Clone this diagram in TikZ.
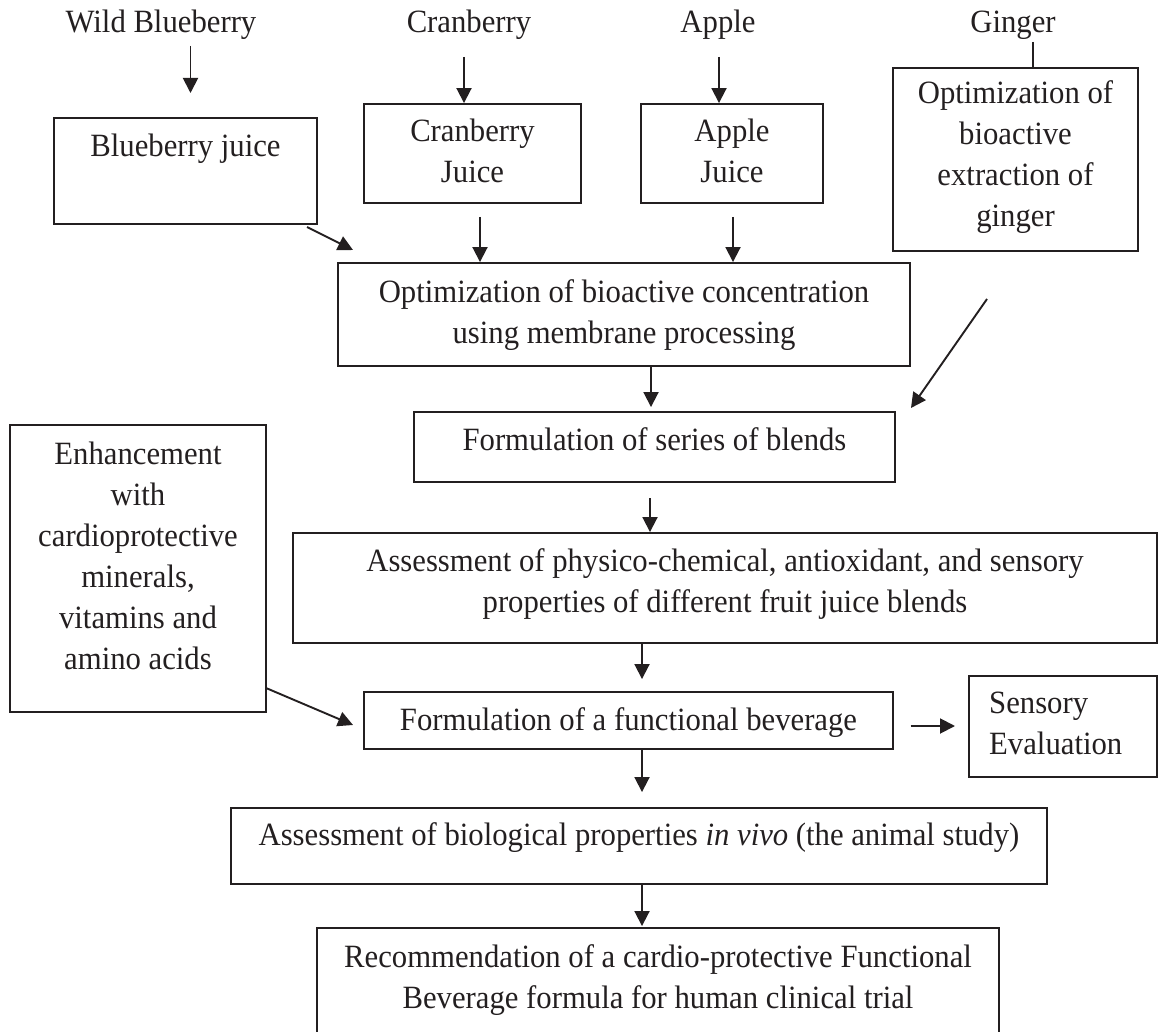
\documentclass[tikz,border=0pt]{standalone}
\usepackage{fontspec}
\setmainfont{Liberation Serif}[FakeStretch=0.945]
\usetikzlibrary{arrows.meta}
\definecolor{ink}{HTML}{231F20}
\newcommand\tlines[1]{\begin{tabular}[t]{@{}c@{}}#1\end{tabular}}
\newcommand\llines[1]{\begin{tabular}[t]{@{}l@{}}#1\end{tabular}}
\begin{document}
\begin{tikzpicture}[x=1pt,y=-1pt,
  box/.style={draw=ink, line width=1.9pt, inner sep=0pt},
  txt/.style={inner sep=0pt, anchor=base, text=ink, font=\fontsize{32.5}{41}\selectfont},
  ltxt/.style={txt, anchor=base west},
  arr/.style={draw=ink, line width=1.9pt, -{Triangle[length=15pt,width=15pt]}},
  ln/.style={draw=ink, line width=1.9pt}]
\useasboundingbox (0,0) rectangle (1159,1032);
\begin{scope}
\clip (0,0) rectangle (1159,1032);
% boxes
\node[box, minimum width=263, minimum height=106] (bj) at (185.5,171) {};
\node[box, minimum width=217, minimum height=99] (cj) at (472.5,153.5) {};
\node[box, minimum width=182, minimum height=99] (aj) at (732,153.5) {};
\node[box, minimum width=245, minimum height=183] (gb) at (1015.5,159.5) {};
\node[box, minimum width=572, minimum height=103] (mb) at (624,314.5) {};
\node[box, minimum width=481, minimum height=70] (fs) at (654.5,447) {};
\node[box, minimum width=256, minimum height=287] (en) at (138,568.5) {};
\node[box, minimum width=864, minimum height=110] (as) at (725,588) {};
\node[box, minimum width=529, minimum height=57] (fb) at (628.5,720.5) {};
\node[box, minimum width=188, minimum height=101] (se) at (1063,726.5) {};
\node[box, minimum width=816, minimum height=76] (iv) at (639,846) {};
\node[box, minimum width=682, minimum height=117] (rc) at (658,986.5) {};
\end{scope}
% top labels
\node[txt] (wbT) at (161,33) {Wild Blueberry};
\node[txt] (crT) at (469,33) {Cranberry};
\node[txt] (apT) at (718,33) {Apple};
\node[txt] (giT) at (1013,33) {Ginger};
% box texts
\node[txt] (bjT) at (185.5,157) {Blueberry juice};
\node[txt] (cjT) at (472.5,142) {\tlines{Cranberry\\Juice}};
\node[txt] (ajT) at (732,142) {\tlines{Apple\\Juice}};
\node[txt] (gbT) at (1015.5,104) {\tlines{Optimization of\\bioactive\\extraction of\\ginger}};
\node[txt] (mbT) at (624,302) {\tlines{Optimization of bioactive concentration\\using membrane processing}};
\node[txt] (fsT) at (654.5,450) {Formulation of series of blends};
\node[txt] (enT) at (138,464) {\tlines{Enhancement\\with\\cardioprotective\\minerals,\\vitamins and\\amino acids}};
\node[txt] (asT) at (725,571) {\tlines{Assessment of physico-chemical, antioxidant, and sensory\\properties of different fruit juice blends}};
\node[txt] (fbT) at (628.5,730) {Formulation of a functional beverage};
\node[ltxt] (seT) at (989,713) {\llines{Sensory\\Evaluation}};
\node[txt] (ivT) at (639,845) {Assessment of biological properties \textit{in vivo} (the animal study)};
\node[txt] (rcT) at (658,967) {\tlines{Recommendation of a cardio-protective Functional\\Beverage formula for human clinical trial}};
% free ends
\coordinate (wb1) at (190.5,46);
\coordinate (wb2) at (190.5,93);
\coordinate (cr1) at (464,57);
\coordinate (ap1) at (719,57);
\coordinate (gi1) at (1033,42);
\coordinate (cj1) at (480,217);
\coordinate (aj1) at (733,217);
\coordinate (bj1) at (307,227);
\coordinate (bj2) at (353,250);
\coordinate (gb1) at (987,299);
\coordinate (gb2) at (911,408);
\coordinate (fs1) at (650,498);
\coordinate (en1) at (266,688);
\coordinate (en2) at (353,725);
\coordinate (fb1) at (910.5,726);
\coordinate (fb2) at (955,726);
% connectors
\draw[arr] (wb1) -- (wb2);
\draw[arr] (cr1) -- (cr1 |- cj.north);
\draw[arr] (ap1) -- (ap1 |- aj.north);
\draw[ln] (gi1) -- (gi1 |- gb.north);
\draw[arr] (cj1) -- (cj1 |- mb.north);
\draw[arr] (aj1) -- (aj1 |- mb.north);
\draw[arr] (bj1) -- (bj2);
\draw[arr] (gb1) -- (gb2);
\draw[arr] (mb.south -| 651,0) -- ([yshift=4pt]fs.north -| 651,0);
\draw[arr] (fs1) -- (fs1 |- as.north);
\draw[arr] (as.south -| 642,0) -- ([yshift=12pt]fb.north -| 642,0);
\draw[arr] (en1) -- (en2);
\draw[arr] (fb1) -- (fb2);
\draw[arr] (fb.south -| 642,0) -- ([yshift=15pt]iv.north -| 642,0);
\draw[arr] (iv.south -| 642,0) -- ([yshift=1pt]rc.north -| 642,0);
\end{tikzpicture}
\end{document}
